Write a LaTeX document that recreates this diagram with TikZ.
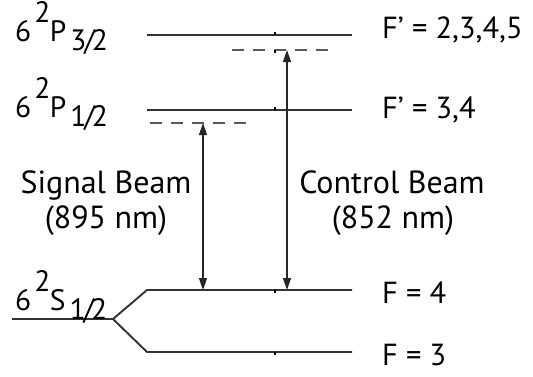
\documentclass[tikz,border=0pt]{standalone}
\usepackage{fontspec}
\setmainfont{PT Sans}
\usetikzlibrary{arrows.meta}
\newcommand\termlbl[4]{#1\kern3pt\raisebox{19pt}{#2}\kern-0.5pt#3\kern4pt\raisebox{-9pt}{#4}}
\newcommand\sfrac[2]{#1\kern-2pt/\kern-3pt#2}
\begin{document}
\begin{tikzpicture}[x=1pt,y=-1pt,
  lvl/.style={line width=1.9pt, draw=black!80},
  virt/.style={line width=1.7pt, draw=black!65, dash pattern=on 12pt off 9pt},
  beam/.style={line width=1.3pt, draw=black!85, {Triangle[length=12pt,width=8pt]}-{Triangle[length=12pt,width=8pt]}},
  tick/.style={line width=1.3pt, draw=black},
  ttxt/.style={inner sep=0pt, font=\fontsize{29.5}{34}\selectfont, text=black},
  txt/.style={inner sep=0pt, font=\fontsize{30.5}{36}\selectfont, text=black},
  btxt/.style={inner sep=0pt, font=\fontsize{32}{38}\selectfont, text=black, align=center}]
\useasboundingbox (0,0) rectangle (533,376);
% level endpoints
\coordinate (p3l) at (147,35);  \coordinate (p3r) at (352,35);
\coordinate (p1l) at (147,110); \coordinate (p1r) at (352,110);
\coordinate (f4l) at (147,290); \coordinate (f4r) at (352,290);
\coordinate (f3l) at (147,352); \coordinate (f3r) at (352,352);
\coordinate (s0)  at (12,319);  \coordinate (split) at (113,319);
\coordinate (v3l) at (232,50);  \coordinate (v3r) at (330,50);
\coordinate (v1l) at (150,123); \coordinate (v1r) at (248,123);
% levels
\draw[lvl] (p3l) -- (p3r);
\draw[lvl] (p1l) -- (p1r);
\draw[lvl] (s0) -- (split) -- (f4l) -- (f4r);
\draw[lvl] (split) -- (f3l) -- (f3r);
\draw[virt] (v3l) -- (v3r);
\draw[virt] (v1l) -- (v1r);
% small ticks
\draw[tick] (275,35) -- (275,32);
\draw[tick] (275,110) -- (275,107);
\draw[tick] (275,50) -- (275,53);
\draw[tick] (275,290) -- (275,293);
\draw[tick] (275,352) -- (275,355);
% beams
\coordinate (sigtop) at (203,123); \coordinate (sigbot) at (203,290);
\coordinate (ctltop) at (287,50);  \coordinate (ctlbot) at (287,290);
\draw[beam] (sigtop) -- (sigbot);
\draw[beam] (ctltop) -- (ctlbot);
% labels
\node[ttxt, anchor=base west] (lp3) at (15,41) {\termlbl{6}{2}{P}{\sfrac{3}{2}}};
\node[ttxt, anchor=base west] (lp1) at (15,117) {\termlbl{6}{2}{P}{\sfrac{1}{2}}};
\node[ttxt, anchor=base west] (ls) at (15,310) {\termlbl{6}{2}{S}{\sfrac{1}{2}}};
\node[txt, anchor=base west] (fp3) at (382,38) {F’ = 2,3,4,5};
\node[txt, anchor=base west] (fp1) at (382,118) {F’ = 3,4};
\node[txt, anchor=base west] (f4) at (382,303) {F = 4};
\node[txt, anchor=base west] (f3) at (382,365) {F = 3};
\node[btxt, anchor=base] (sig) at (106,193) {Signal Beam};
\node[btxt, anchor=base] (sign) at (106,228) {(895 nm)};
\node[btxt, anchor=base] (ctl) at (392,193) {Control Beam};
\node[btxt, anchor=base] (ctln) at (393,228) {(852 nm)};
\end{tikzpicture}
\end{document}
